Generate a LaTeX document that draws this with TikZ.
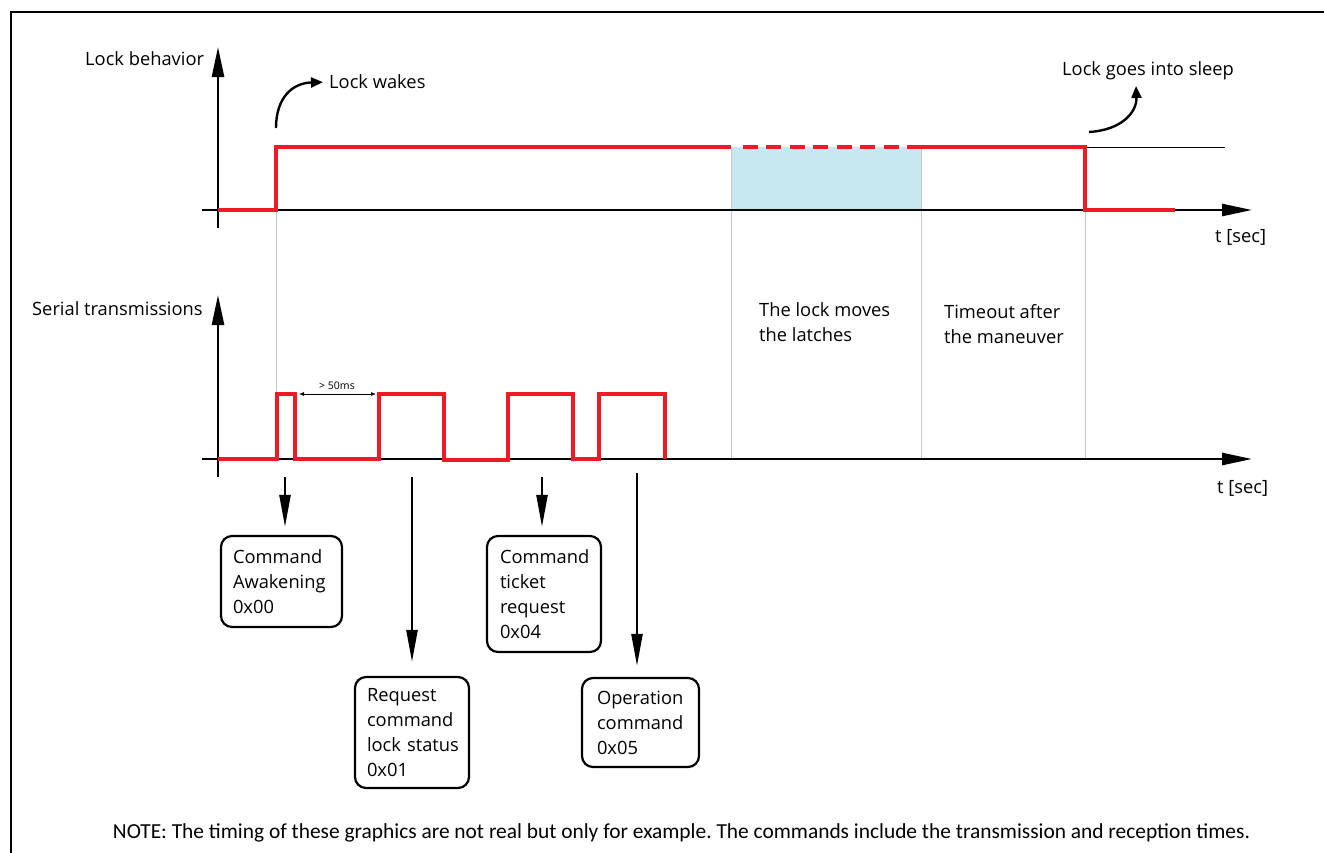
\documentclass[tikz,border=0pt]{standalone}
\usepackage{fontspec}
\setmainfont{Open Sans}
\newfontfamily\notefont{Carlito}
\usetikzlibrary{arrows.meta}
\frenchspacing
\definecolor{sigred}{RGB}{237,28,36}
\definecolor{latchblue}{RGB}{197,232,241}
\definecolor{guidegray}{RGB}{200,200,200}
\tikzset{
  sig/.style={draw=sigred, line width=4pt, line join=miter},
  axisline/.style={line width=2.6pt, -{Triangle[length=30pt,width=12pt]}},
  guide/.style={draw=guidegray, line width=1pt},
  curvearr/.style={line width=2.4pt, -{Triangle[length=12pt,width=10pt]}},
  downarr/.style={line width=2.4pt, -{Triangle[length=32pt,width=11pt]}},
  lbl/.style={font=\fontsize{18.3}{25}\selectfont, inner sep=0pt, align=left},
  cmdbox/.style={draw, line width=2.2pt, rounded corners=11pt, font=\fontsize{18.3}{25}\selectfont, align=left, inner xsep=12pt, inner ysep=0pt},
}
\begin{document}
\begin{tikzpicture}[x=1pt,y=-1pt]
\useasboundingbox (0,0) rectangle (1324,852);
\fill[white] (0,0) rectangle (1324,852);
% frame
\draw[line width=2.4pt] (11,870) -- (11,12) -- (1340,12);

% ---------------- top diagram ----------------
\fill[latchblue] (731,147) rectangle (921,210);
\draw[guide] (276,210) -- (276,459);
\draw[guide] (731,147) -- (731,459);
\draw[guide] (921,147) -- (921,459);
\draw[guide] (1085,210) -- (1085,459);
\draw[line width=1pt] (1085,147) -- (1225,147);

\draw[axisline] (202,210) -- (1252,210);
\draw[axisline] (218,228) -- (218,47);

\draw[sig] (218,210) -- (276,210) -- (276,147) -- (731,147);
\draw[sig, dash pattern=on 15pt off 8.5pt] (742.7,147) -- (921,147);
\draw[sig] (907,147) -- (1085,147) -- (1085,210) -- (1175,210);

\node[lbl, anchor=west] (lb) at (85,59) {Lock behavior};
\node[lbl, anchor=west] (lw) at (329,82) {Lock wakes};
\node[lbl, anchor=west] (ls) at (1062,71) {Lock goes into sleep};
\node[lbl, anchor=west] (t1) at (1215,237) {t [sec]};
\coordinate (wk) at (276,128);
\coordinate (sl) at (1089,132);
\draw[curvearr, shorten >=6pt] (wk) .. controls (276,98) and (292,83) .. (lw.west);
\draw[curvearr] (sl) .. controls (1122,130) and (1137,112) .. (1136,86);

\node[lbl, anchor=west] (mv) at (759,322) {The lock moves\\the latches};
\node[lbl, anchor=west] (to) at (944,324) {Timeout after\\the maneuver};

% ---------------- bottom diagram ----------------
\draw[axisline] (202,459) -- (1252,459);
\draw[axisline] (218,477) -- (218,295);

\draw[sig] (218,459) -- (277,459) -- (277,394) -- (295,394) -- (295,459)
  -- (379,459) -- (379,394) -- (444,394) -- (444,460) -- (508,460)
  -- (508,394) -- (573,394) -- (573,459) -- (599,459) -- (599,394)
  -- (665,394) -- (665,459);

\node[lbl, anchor=west] (st) at (32,309) {Serial transmissions};
\node[lbl, anchor=west] (t2) at (1217,488) {t [sec]};

\coordinate (d1) at (299,394);
\coordinate (d2) at (376,394);
\draw[line width=0.8pt, {Latex[length=5pt,width=4pt]}-{Latex[length=5pt,width=4pt]}] (d1) -- (d2);
\node[font=\fontsize{10.5}{12}\selectfont, inner sep=0pt] (ms) at (337,386) {> 50ms};

% command boxes
\node[cmdbox, text width=97pt, minimum height=91pt] (b1) at (281.5,581.5) {\mbox{Command}\\\mbox{Awakening}\\0x00};
\node[cmdbox, text width=90pt, minimum height=111pt] (b2) at (412,732.5) {\mbox{Request}\\\mbox{command}\\\mbox{lock status}\\0x01};
\node[cmdbox, text width=88pt, minimum height=116pt, inner xsep=13pt] (b3) at (544,594) {\mbox{Command}\\\mbox{ticket}\\\mbox{request}\\0x04};
\node[cmdbox, text width=87pt, minimum height=89pt, inner xsep=15pt] (b4) at (640.5,722.5) {\mbox{Operation}\\\mbox{command}\\0x05};

\coordinate (s1) at (285,477);
\coordinate (s2) at (412,477);
\coordinate (s3) at (542,477);
\coordinate (s4) at (637,473);
\draw[downarr, shorten >=8pt] (s1) -- (s1 |- b1.north);
\draw[downarr, shorten >=14pt] (s2) -- (s2 |- b2.north);
\draw[downarr, shorten >=8pt] (s3) -- (s3 |- b3.north);
\draw[downarr, shorten >=11pt] (s4) -- (s4 |- b4.north);

\node[font=\notefont\fontsize{21.4}{24}\selectfont, inner sep=0pt] (note) at (681.5,833) {NOTE: The timing of these graphics are not real but only for example. The commands include the transmission and reception times.};
\end{tikzpicture}
\end{document}
